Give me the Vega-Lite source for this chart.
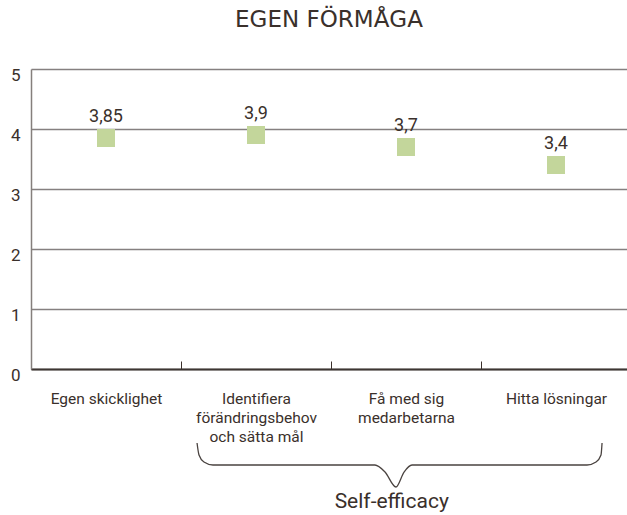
{
  "$schema": "https://vega.github.io/schema/vega-lite/v6.json",
  "width": 596,
  "height": 300,
  "autosize": {"type": "none"},
  "padding": {"left": 31, "top": 69, "right": 0, "bottom": 146},
  "background": "white",
  "title": {
    "text": "EGEN FÖRMÅGA",
    "anchor": "middle",
    "frame": "group",
    "font": "DejaVu Sans",
    "fontSize": 23,
    "fontWeight": "normal",
    "color": "#3a302b",
    "baseline": "alphabetic",
    "offset": 16
  },
  "config": {"view": {"stroke": null}, "font": "Roboto"},
  "layer": [
    {
      "data": {
        "values": [
          {"kategori": "Egen skicklighet", "medel": 3.85, "etikett": "3,85"},
          {"kategori": "Identifiera|förändringsbehov|och sätta mål", "medel": 3.9, "etikett": "3,9"},
          {"kategori": "Få med sig|medarbetarna", "medel": 3.7, "etikett": "3,7"},
          {"kategori": "Hitta lösningar", "medel": 3.4, "etikett": "3,4"}
        ]
      },
      "encoding": {
        "x": {
          "field": "kategori",
          "type": "nominal",
          "sort": null,
          "scale": {"range": [0, 600], "paddingInner": 0, "paddingOuter": 0},
          "axis": {
            "title": null,
            "labelExpr": "isValid(datum.value) ? split(datum.value, '|') : ''",
            "labelAngle": 0,
            "labelFont": "Roboto",
            "labelFontSize": 15.5,
            "labelColor": "#3a302b",
            "labelLineHeight": 19,
            "labelBaseline": "top",
            "labelPadding": 30,
            "labelLimit": 0,
            "tickBand": "extent",
            "tickSize": -8,
            "tickColor": "#3a302b",
            "tickWidth": 1,
            "domainColor": "#3d3633",
            "domainWidth": 2,
            "grid": false
          }
        },
        "y": {
          "field": "medel",
          "type": "quantitative",
          "scale": {"domain": [0, 5], "nice": false},
          "axis": {
            "title": null,
            "values": [0, 1, 2, 3, 4, 5],
            "format": "d",
            "grid": true,
            "gridColor": "#858080",
            "gridWidth": 1.5,
            "domainColor": "#857f7c",
            "domainWidth": 1.5,
            "ticks": false,
            "labelFont": "Roboto",
            "labelFontSize": 17,
            "labelColor": "#3a302b",
            "labelPadding": 11,
            "labelBaseline": "middle",
            "labelOffset": 6
          }
        }
      },
      "layer": [
        {"mark": {"type": "square", "size": 324, "color": "#c3d69b", "filled": true, "opacity": 1}},
        {
          "mark": {"type": "text", "dy": -16, "baseline": "alphabetic", "fontSize": 18, "font": "Roboto", "color": "#3a302b"},
          "encoding": {"text": {"field": "etikett"}}
        }
      ]
    },
    {
      "data": {
        "values": [
          {"steg": 1, "bx": 1.107, "by": -1.233},
          {"steg": 2, "bx": 1.12, "by": -1.433},
          {"steg": 3, "bx": 1.153, "by": -1.55},
          {"steg": 4, "bx": 1.213, "by": -1.6},
          {"steg": 5, "bx": 2.293, "by": -1.6},
          {"steg": 6, "bx": 2.36, "by": -1.717},
          {"steg": 7, "bx": 2.433, "by": -1.967},
          {"steg": 8, "bx": 2.487, "by": -1.717},
          {"steg": 9, "bx": 2.54, "by": -1.6},
          {"steg": 10, "bx": 3.707, "by": -1.6},
          {"steg": 11, "bx": 3.767, "by": -1.55},
          {"steg": 12, "bx": 3.8, "by": -1.433},
          {"steg": 13, "bx": 3.807, "by": -1.233}
        ]
      },
      "mark": {"type": "line", "interpolate": "monotone", "color": "#4a4340", "strokeWidth": 1.3},
      "encoding": {
        "x": {"field": "bx", "type": "quantitative", "scale": {"domain": [0, 4], "range": [0, 600]}, "axis": null},
        "y": {"field": "by", "type": "quantitative", "title": null},
        "order": {"field": "steg"}
      }
    },
    {
      "data": {"values": [{"text": "Self-efficacy", "tx": 2.405, "ty": -2.317}]},
      "mark": {"type": "text", "baseline": "alphabetic", "align": "center", "fontSize": 21, "font": "Roboto", "color": "#3a302b"},
      "encoding": {
        "x": {"field": "tx", "type": "quantitative", "scale": {"domain": [0, 4], "range": [0, 600]}, "axis": null},
        "y": {"field": "ty", "type": "quantitative", "title": null},
        "text": {"field": "text"}
      }
    }
  ],
  "resolve": {"scale": {"x": "independent"}, "axis": {"x": "independent"}}
}
